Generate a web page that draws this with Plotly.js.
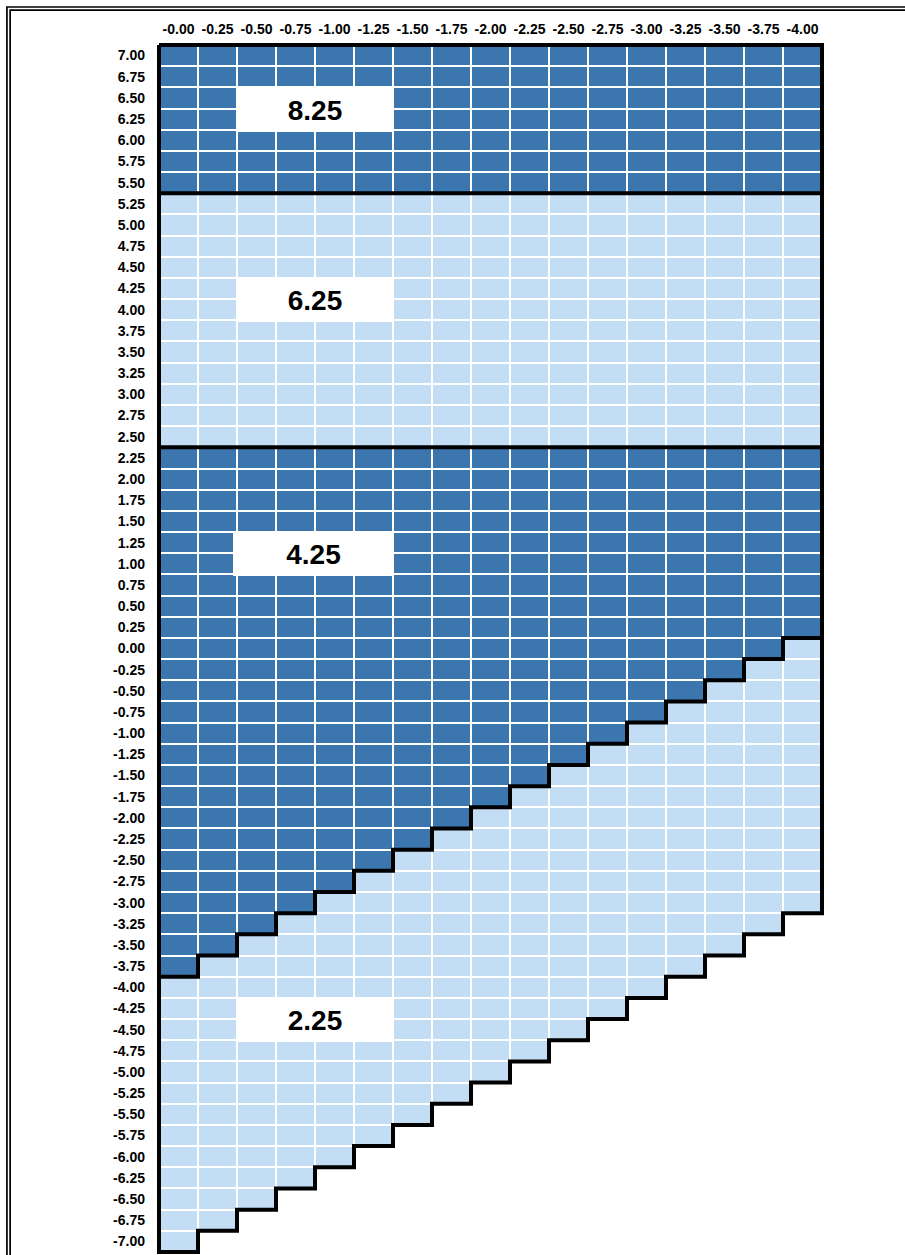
<!DOCTYPE html>
<html><head><meta charset="utf-8">
<script src="https://cdn.plot.ly/plotly-3.0.1.min.js"></script>
<style>html,body{margin:0;padding:0;background:#fff;overflow:hidden}#chart{width:905px;height:1255px}</style>
</head><body><div id="chart"></div>
<script>
// ---- data ----
const xVals = [0,-0.25,-0.5,-0.75,-1,-1.25,-1.5,-1.75,-2,-2.25,-2.5,-2.75,-3,-3.25,-3.5,-3.75,-4];
const xLabels = ["-0.00","-0.25","-0.50","-0.75","-1.00","-1.25","-1.50","-1.75","-2.00","-2.25","-2.50","-2.75","-3.00","-3.25","-3.50","-3.75","-4.00"];
const yVals = [7,6.75,6.5,6.25,6,5.75,5.5,5.25,5,4.75,4.5,4.25,4,3.75,3.5,3.25,3,2.75,2.5,2.25,2,1.75,1.5,1.25,1,0.75,0.5,0.25,0,-0.25,-0.5,-0.75,-1,-1.25,-1.5,-1.75,-2,-2.25,-2.5,-2.75,-3,-3.25,-3.5,-3.75,-4,-4.25,-4.5,-4.75,-5,-5.25,-5.5,-5.75,-6,-6.25,-6.5,-6.75,-7];
const yLabels = ["7.00","6.75","6.50","6.25","6.00","5.75","5.50","5.25","5.00","4.75","4.50","4.25","4.00","3.75","3.50","3.25","3.00","2.75","2.50","2.25","2.00","1.75","1.50","1.25","1.00","0.75","0.50","0.25","0.00","-0.25","-0.50","-0.75","-1.00","-1.25","-1.50","-1.75","-2.00","-2.25","-2.50","-2.75","-3.00","-3.25","-3.50","-3.75","-4.00","-4.25","-4.50","-4.75","-5.00","-5.25","-5.50","-5.75","-6.00","-6.25","-6.50","-6.75","-7.00"];
const regionValues = [8.25, 6.25, 4.25, 2.25];
const bandBottoms = [5.50, 2.50];            // lowest row of the two top bands
const darkBottom = [-3.75,-3.50,-3.25,-3.00,-2.75,-2.50,-2.25,-2.00,-1.75,-1.50,-1.25,-1.00,-0.75,-0.50,-0.25,0.00,0.25];
const gridBottom = [-7.00,-6.75,-6.50,-6.25,-6.00,-5.75,-5.50,-5.25,-5.00,-4.75,-4.50,-4.25,-4.00,-3.75,-3.50,-3.25,-3.00];

// ---- build z ----
const z = yVals.map(y => xVals.map((x, j) => {
  if (y >= bandBottoms[0]) return regionValues[0];
  if (y >= bandBottoms[1]) return regionValues[1];
  if (y >= darkBottom[j]) return regionValues[2];
  if (y >= gridBottom[j]) return regionValues[3];
  return null;
}));

const DARK = '#3b76af', LIGHT = '#c2ddf4';
const zmin = Math.min(...regionValues), zmax = Math.max(...regionValues);
const colorscale = [];
const sorted = regionValues.slice().sort((a,b)=>a-b);
sorted.forEach((v, k) => {
  const c = (k % 2 === 0) ? LIGHT : DARK;
  const lo = k === 0 ? 0 : ((sorted[k-1] + v) / 2 - zmin) / (zmax - zmin);
  const hi = k === sorted.length - 1 ? 1 : ((sorted[k+1] + v) / 2 - zmin) / (zmax - zmin);
  colorscale.push([lo, c], [hi, c]);
});

// ---- boundary segments (where neighbouring values differ) ----
const nR = yVals.length, nC = xVals.length;
const hx = (xVals[0] - xVals[1]) / 2, hy = (yVals[0] - yVals[1]) / 2;
const val = (i, j) => (i < 0 || j < 0 || i >= nR || j >= nC) ? null : z[i][j];
const segs = [];
for (let i = 0; i <= nR; i++) for (let j = 0; j < nC; j++) {
  if (val(i-1, j) !== val(i, j)) {
    const yy = i < nR ? yVals[i] + hy : yVals[nR-1] - hy;
    segs.push([[xVals[j] + hx, yy], [xVals[j] - hx, yy]]);
  }
}
for (let i = 0; i < nR; i++) for (let j = 0; j <= nC; j++) {
  if (val(i, j-1) !== val(i, j)) {
    const xx = j < nC ? xVals[j] + hx : xVals[nC-1] - hx;
    segs.push([[xx, yVals[i] + hy], [xx, yVals[i] - hy]]);
  }
}
// chain segments into polylines
const key = p => p[0].toFixed(4) + ',' + p[1].toFixed(4);
const byPt = {};
segs.forEach((s, k) => s.forEach(p => { (byPt[key(p)] = byPt[key(p)] || []).push(k); }));
const used = new Array(segs.length).fill(false);
const lx = [], ly = [];
function nextFrom(p) {
  const list = byPt[key(p)] || [];
  for (const k of list) if (!used[k]) { used[k] = true; const s = segs[k]; return key(s[0]) === key(p) ? s[1] : s[0]; }
  return null;
}
segs.forEach((s, k) => {
  if (used[k]) return;
  used[k] = true;
  const line = [s[0], s[1]];
  let q;
  while ((q = nextFrom(line[line.length-1]))) line.push(q);
  while ((q = nextFrom(line[0]))) line.unshift(q);
  line.forEach(p => { lx.push(p[0]); ly.push(p[1]); });
  lx.push(null); ly.push(null);
});

// ---- geometry ----
const cellL = 159, cellR = 821.7, cellT = 45, cellB = 1252, pad = 3;
const W = 905, H = 1255;
const xRangeSpan = (xVals[0] + hx) - (xVals[nC-1] - hx);
const yRangeSpan = (yVals[0] + hy) - (yVals[nR-1] - hy);
const xpu = (cellR - cellL) / xRangeSpan, ypu = (cellB - cellT) / yRangeSpan;
const xRange = [xVals[0] + hx + pad / xpu, xVals[nC-1] - hx - pad / xpu];
const yRange = [yVals[nR-1] - hy - pad / ypu, yVals[0] + hy + pad / ypu];
const mL = cellL - pad, mR = W - (cellR + pad), mT = cellT - pad, mB = Math.max(0, H - (cellB + pad));
const plotW = W - mL - mR, plotH = H - mT - mB;
const px2paperX = px => (px - mL) / plotW;
const py2paperY = py => 1 - (py - mT) / plotH;

const FONT = 'Liberation Sans, Arial, sans-serif';

// labels (positions are layout choices)
const labelPlaces = [
  {y: 6.375, w: 156, dx: 0},
  {y: 4.125, w: 156, dx: 0},
  {y: 1.125, w: 161, dx: -1.5},
  {y: -4.375, w: 156, dx: 0}
];
const annotations = regionValues.map((v, k) => ({
  x: (xVals[2] + xVals[5]) / 2, y: labelPlaces[k].y, xref: 'x', yref: 'y',
  text: v.toFixed(2), showarrow: false, bgcolor: '#ffffff',
  width: labelPlaces[k].w, height: 44, borderpad: 0, borderwidth: 0,
  xshift: labelPlaces[k].dx, yshift: -1,
  font: {family: FONT, size: 28, color: '#000', weight: 'bold'}
}));

const frameShapes = [
  {type: 'rect', xref: 'paper', yref: 'paper', x0: px2paperX(7), x1: px2paperX(W + 20), y0: py2paperY(H + 20), y1: py2paperY(7), line: {color: '#000', width: 1.7}, fillcolor: 'rgba(0,0,0,0)', layer: 'above'},
  {type: 'rect', xref: 'paper', yref: 'paper', x0: px2paperX(10.2), x1: px2paperX(W + 20), y0: py2paperY(H + 20), y1: py2paperY(10.2), line: {color: '#000', width: 1.7}, fillcolor: 'rgba(0,0,0,0)', layer: 'above'}
];

const data = [
  {type: 'heatmap', x: xVals, y: yVals, z: z, colorscale: colorscale, zmin: zmin, zmax: zmax,
   showscale: false, xgap: 2, ygap: 2, hoverinfo: 'skip'},
  {type: 'scatter', mode: 'lines', x: lx, y: ly, line: {color: '#000', width: 4},
   connectgaps: false, hoverinfo: 'skip', showlegend: false}
];

const layout = {
  width: W, height: H,
  margin: {l: mL, r: mR, t: mT, b: mB, pad: 0},
  paper_bgcolor: '#fff', plot_bgcolor: '#fff',
  showlegend: false,
  xaxis: {side: 'top', range: xRange, tickmode: 'array', tickvals: xVals, ticktext: xLabels,
          showgrid: false, zeroline: false, showline: false, ticks: '', ticklabelstandoff: 4,
          tickfont: {family: FONT, size: 14, color: '#000', weight: 'bold'}, fixedrange: true},
  yaxis: {range: yRange, tickmode: 'array', tickvals: yVals, ticktext: yLabels,
          showgrid: false, zeroline: false, showline: false, ticks: '', ticklabelstandoff: 10,
          tickfont: {family: FONT, size: 14, color: '#000', weight: 'bold'}, fixedrange: true},
  annotations: annotations,
  shapes: frameShapes
};

Plotly.newPlot('chart', data, layout, {displayModeBar: false, staticPlot: true});
</script>
</body></html>
